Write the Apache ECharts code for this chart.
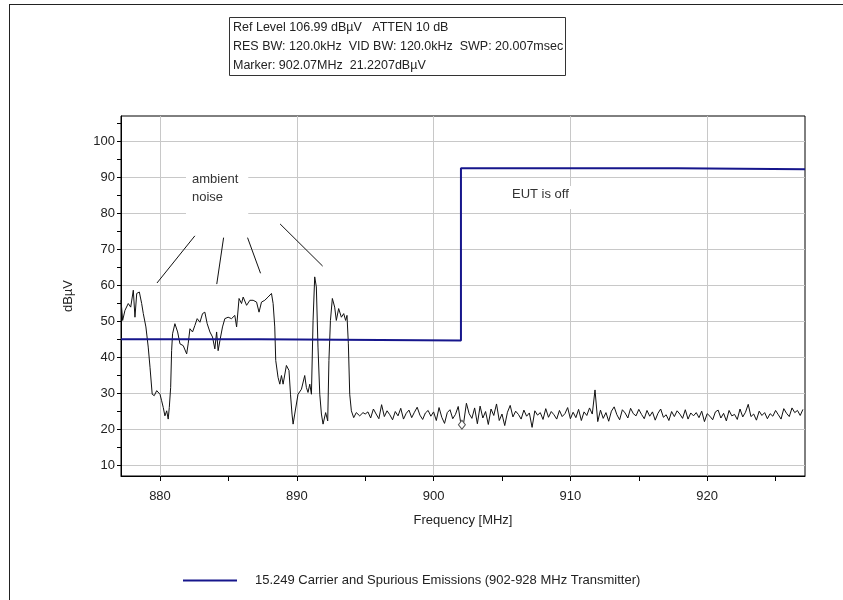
<!DOCTYPE html>
<html>
<head>
<meta charset="utf-8">
<style>
  html, body { margin: 0; padding: 0; background: #ffffff; }
  #chart { width: 843px; height: 600px; }
</style>
<script src="https://cdn.jsdelivr.net/npm/echarts@6/dist/echarts.min.js"></script>
</head>
<body>
<div id="chart"></div>
<script>
// Analyzer settings shown in the header box
const headerLines = [
  'Ref Level 106.99 dBµV   ATTEN 10 dB',
  'RES BW: 120.0kHz  VID BW: 120.0kHz  SWP: 20.007msec',
  'Marker: 902.07MHz  21.2207dBµV'
];

// Axis ranges and ticks
const freqRange = [877.15, 927.15];
const levelRange = [6.99, 106.99];
const freqMajor = [880, 890, 900, 910, 920];
const freqMinor = [885, 895, 905, 915, 925];
const levelMajor = [10, 20, 30, 40, 50, 60, 70, 80, 90, 100];
const levelMinor = [15, 25, 35, 45, 55, 65, 75, 85, 95, 105];

// Measured trace, 877-895 MHz (ambient signals)
const lowBandMHz = [
  877.15, 877.27, 877.44, 877.68, 877.86, 878.05, 878.17, 878.30, 878.49, 878.66,
  878.78, 878.97, 879.14, 879.27, 879.43, 879.58, 879.76, 880.00, 880.12, 880.24,
  880.36, 880.49, 880.60, 880.68, 880.78, 880.85, 880.92, 881.09, 881.29, 881.46,
  881.58, 881.70, 881.95, 882.06, 882.19, 882.38, 882.55, 882.72, 882.92, 883.11,
  883.28, 883.45, 883.65, 883.84, 884.01, 884.14, 884.25, 884.38, 884.57, 884.74,
  884.98, 885.23, 885.47, 885.60, 885.78, 885.96, 886.08, 886.33, 886.57, 886.81,
  887.06, 887.24, 887.42, 887.66, 887.90, 888.15, 888.27, 888.39, 888.46, 888.63,
  888.76, 888.88, 889.00, 889.24, 889.43, 889.54, 889.65, 889.73, 889.85, 890.09,
  890.34, 890.58, 890.70, 890.82, 890.95, 891.07, 891.19, 891.31, 891.43, 891.55,
  891.68, 891.80, 891.92, 892.11, 892.26, 892.35, 892.46, 892.60, 892.77, 892.89,
  893.06, 893.26, 893.43, 893.57, 893.67, 893.77, 893.87, 893.99, 894.16, 894.35,
  894.60, 894.84, 895.00
];
const lowBandDb = [
  55.8, 50.2, 53.0, 54.9, 53.9, 58.6, 51.1, 57.7, 58.1, 54.9,
  52.1, 48.4, 42.8, 37.2, 29.7, 29.3, 30.7, 29.7, 27.9, 26.0,
  23.7, 25.1, 22.8, 26.0, 31.6, 41.8, 46.5, 49.3, 47.0, 43.7,
  44.2, 43.2, 40.9, 43.7, 47.9, 47.0, 48.8, 50.7, 49.7, 52.1,
  52.5, 49.3, 47.0, 45.6, 42.3, 47.0, 41.8, 44.6, 48.4, 50.7,
  51.1, 50.7, 51.6, 48.4, 56.3, 54.9, 56.7, 54.4, 55.8, 55.8,
  55.3, 52.5, 55.3, 55.8, 56.7, 57.7, 54.9, 48.4, 39.1, 34.4,
  32.5, 34.9, 32.5, 37.7, 36.3, 29.7, 24.2, 21.4, 24.2, 29.7,
  31.1, 34.9, 31.6, 30.2, 32.5, 29.7, 50.2, 62.3, 59.5, 42.8,
  29.7, 24.2, 21.4, 24.6, 22.3, 39.1, 50.2, 56.3, 53.9, 50.2,
  53.5, 51.1, 52.1, 50.2, 51.6, 43.7, 29.7, 25.1, 23.2, 24.6,
  23.7, 24.6, 24.2
];

// Measured noise floor, 0.2 MHz sweep steps from 895.2 MHz
const floorStartMHz = 895.2;
const floorStepMHz = 0.2;
const floorDb = [
  24.8, 23.1, 25.6, 24.2, 22.9, 26.8, 23.5, 25.1, 24.0, 22.6,
  24.9, 23.7, 25.8, 22.8, 24.4, 25.3, 23.2, 24.7, 26.1, 23.9,
  22.7, 24.5, 25.2, 23.6, 24.8, 22.4, 26.0, 23.3, 21.6, 24.6,
  25.4, 22.9, 24.1, 26.3, 21.3, 21.8, 27.2, 24.3, 23.0, 25.9,
  21.5, 26.4, 23.1, 24.9, 21.3, 25.6, 23.8, 27.0, 22.4, 24.2,
  21.0, 24.7, 26.6, 23.4, 25.0, 24.1, 22.8, 25.3, 23.6, 24.5,
  20.5, 25.1, 23.9, 24.6, 22.7, 25.7, 23.3, 24.9, 24.0, 22.8,
  25.2, 23.5, 24.3, 26.0, 22.9, 24.7, 23.2, 25.5, 22.4, 24.8,
  23.8, 25.9, 24.2, 30.9, 22.1, 25.3, 23.0, 24.6, 22.2, 25.0,
  26.2, 24.0, 22.6, 25.4, 24.5, 23.1, 25.8, 24.3, 23.7, 25.5,
  24.1, 22.9, 25.2, 23.6, 24.8, 22.5, 24.4, 25.6, 23.3, 24.0,
  22.4, 24.9, 23.5, 25.1, 24.2, 23.0, 25.4, 22.8, 24.5, 23.7,
  24.6, 23.2, 25.0, 22.1, 24.3, 23.6, 22.6, 24.8, 25.3, 23.1,
  24.4, 22.3, 25.2, 23.7, 24.1, 22.7, 25.6, 23.4, 24.7, 26.9,
  23.5, 24.2, 22.5, 25.0, 23.8, 24.6, 22.9, 24.3, 23.6, 25.2,
  24.0, 22.8, 25.7, 24.4, 23.5, 25.9, 24.6, 25.2, 23.8, 25.5
];

// 15.249 limit line
const limitName = '15.249 Carrier and Spurious Emissions (902-928 MHz Transmitter)';
const limitMHz = [877.15, 887.2, 887.2, 902.0, 902.0, 917.8, 917.8, 927.15];
const limitDb = [45.0, 45.0, 44.6, 44.6, 92.5, 92.5, 92.2, 92.2];

// Marker reading
const markerMHz = 902.07;
const markerDb = 21.2207;

// Pointer lines from the "ambient noise" note, in MHz / dBµV
const notePointers = [
  [[882.55, 73.7], [879.78, 60.6]],
  [[884.65, 73.2], [884.15, 60.3]],
  [[886.40, 73.2], [887.35, 63.3]],
  [[888.78, 77.0], [891.89, 65.3]]
];

const FONT = '"Liberation Sans", Arial, sans-serif';
const INK = '#222222';
const NAVY = '#16168c';

const traceData = lowBandMHz.map((f, i) => [f, lowBandDb[i]])
  .concat(floorDb.map((v, i) => [+(floorStartMHz + i * floorStepMHz).toFixed(2), v]));
const limitData = limitMHz.map((f, i) => [f, limitDb[i]]);

const chart = echarts.init(document.getElementById('chart'), null, { renderer: 'canvas' });

const axisCommon = {
  type: 'value',
  axisLine: { show: true, onZero: false, lineStyle: { color: '#000', width: 1 } },
  axisLabel: { color: INK, fontSize: 13, fontFamily: FONT },
  splitLine: { show: true, lineStyle: { color: '#c8c8c8', width: 1 } }
};

chart.setOption({
  animation: false,
  backgroundColor: '#ffffff',
  title: {
    text: headerLines.join('\n'),
    left: 229,
    top: 17,
    padding: [1, 3, 1, 4],
    borderColor: '#333',
    borderWidth: 1,
    textStyle: { fontSize: 12.5, fontWeight: 'normal', color: INK, fontFamily: FONT, lineHeight: 19 }
  },
  grid: { left: 121, right: 38, top: 116, bottom: 124, show: true, borderColor: '#000', borderWidth: 1, backgroundColor: 'transparent' },
  legend: {
    data: [limitName],
    left: 178,
    top: 569,
    icon: 'rect',
    itemWidth: 54,
    itemHeight: 2,
    textStyle: { fontSize: 13, color: INK, fontFamily: FONT, padding: [0, 0, 0, 13] }
  },
  xAxis: [
    Object.assign({}, axisCommon, {
      min: freqRange[0], max: freqRange[1],
      name: 'Frequency [MHz]', nameLocation: 'middle', nameGap: 38,
      nameTextStyle: { fontSize: 13, color: INK, fontFamily: FONT },
      axisTick: { show: true, length: 5, customValues: freqMajor, lineStyle: { color: '#000' } },
      axisLabel: Object.assign({}, axisCommon.axisLabel, { customValues: freqMajor, margin: 14 })
    }),
    {
      type: 'value', min: freqRange[0], max: freqRange[1], position: 'bottom',
      axisLine: { show: false },
      axisTick: { show: true, length: 5, customValues: freqMinor, lineStyle: { color: '#000' } },
      axisLabel: { show: false },
      splitLine: { show: false }
    }
  ],
  yAxis: [
    Object.assign({}, axisCommon, {
      min: levelRange[0], max: levelRange[1],
      name: 'dBµV', nameLocation: 'middle', nameGap: 46, nameRotate: 90,
      nameTextStyle: { fontSize: 13, color: INK, fontFamily: FONT },
      axisTick: { show: true, length: 4, customValues: levelMajor, lineStyle: { color: '#000' } },
      axisLabel: Object.assign({}, axisCommon.axisLabel, { customValues: levelMajor, margin: 6 })
    }),
    {
      type: 'value', min: levelRange[0], max: levelRange[1], position: 'left',
      axisLine: { show: false },
      axisTick: { show: true, length: 4, customValues: levelMinor, lineStyle: { color: '#000' } },
      axisLabel: { show: false },
      splitLine: { show: false }
    }
  ],
  series: [
    {
      name: 'trace',
      type: 'line',
      data: traceData,
      showSymbol: false,
      symbol: 'none',
      z: 3,
      lineStyle: { color: '#111', width: 1 },
      markLine: {
        silent: true,
        symbol: ['none', 'none'],
        label: { show: false },
        lineStyle: { color: '#111', width: 1, type: 'solid' },
        data: notePointers.map(p => [{ coord: p[0] }, { coord: p[1] }])
      },
      markPoint: {
        silent: true,
        symbol: 'diamond',
        symbolSize: [7, 9],
        itemStyle: { color: '#ffffff', borderColor: '#555', borderWidth: 1 },
        label: { show: false },
        data: [{ coord: [markerMHz, markerDb] }]
      }
    },
    {
      name: limitName,
      type: 'line',
      data: limitData,
      showSymbol: false,
      symbol: 'none',
      z: 4,
      color: NAVY,
      lineStyle: { color: NAVY, width: 2 }
    }
  ],
  graphic: [
    { type: 'line', shape: { x1: 9, y1: 4.5, x2: 843, y2: 4.5 }, style: { stroke: '#222', lineWidth: 1 }, z: 10 },
    { type: 'line', shape: { x1: 9.5, y1: 4, x2: 9.5, y2: 600 }, style: { stroke: '#222', lineWidth: 1 }, z: 10 },
    {
      type: 'text', left: 186, top: 166, z: 10,
      style: { text: 'ambient\nnoise', fill: '#333', font: '13px ' + FONT, lineHeight: 18, backgroundColor: '#fff', padding: [4, 10, 10, 6] }
    },
    {
      type: 'text', left: 506, top: 186, z: 10,
      style: { text: 'EUT is off', fill: '#333', font: '13px ' + FONT, backgroundColor: '#fff', padding: [2, 6, 8, 6] }
    }
  ]
});
</script>
</body>
</html>
